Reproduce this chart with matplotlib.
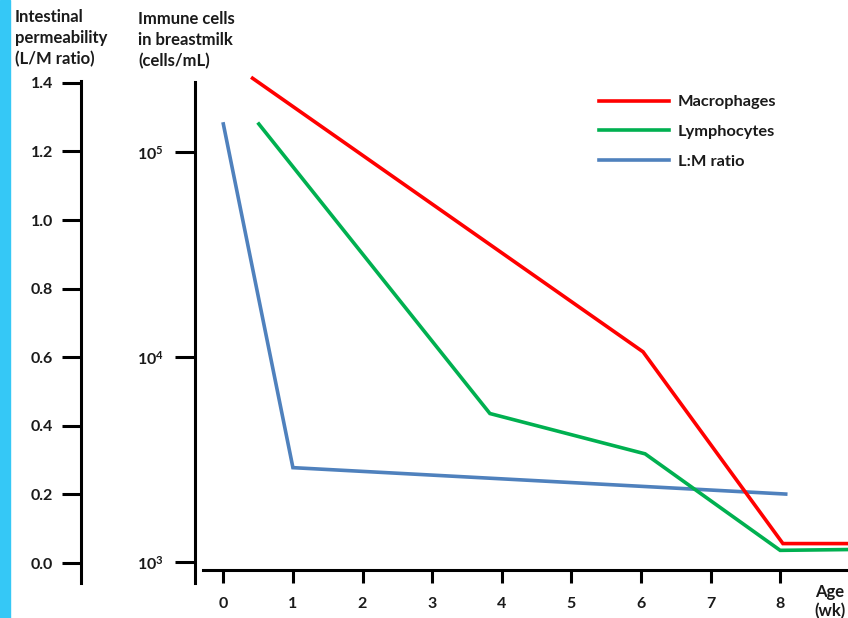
import matplotlib
matplotlib.use("Agg")
import matplotlib.pyplot as plt
from matplotlib.patches import Rectangle

# ---- data ----
mac_x = [0.42, 6.03, 8.04, 8.98]
mac_y = [2.29e5, 1.06e4, 1.23e3, 1.23e3]
lym_x = [0.51, 3.83, 6.06, 8.0, 8.96]
lym_y = [1.37e5, 5.3e3, 3.37e3, 1.14e3, 1.15e3]
lm_x = [0.0, 1.0, 8.08]
lm_y = [1.28, 0.278, 0.201]
x_ticks = [0, 1, 2, 3, 4, 5, 6, 7, 8]
lm_ticks = [0.0, 0.2, 0.4, 0.6, 0.8, 1.0, 1.2, 1.4]
log_ticks = [1e3, 1e4, 1e5]
log_labels = [r"$\mathbf{10^{3}}$", r"$\mathbf{10^{4}}$", r"$\mathbf{10^{5}}$"]
series_names = ["Macrophages", "Lymphocytes", "L:M ratio"]

plt.rcParams['font.family'] = ['Lato', 'DejaVu Sans']
plt.rcParams['font.weight'] = 'bold'
plt.rcParams['mathtext.fontset'] = 'custom'
plt.rcParams['mathtext.bf'] = 'Lato:bold'
plt.rcParams['mathtext.rm'] = 'Lato:bold'
TXT = '#1a1a1a'
W, H = 848, 618
fig = plt.figure(figsize=(W / 100, H / 100), dpi=100)
fig.patches.append(Rectangle((0, 0), 10 / W, 1, transform=fig.transFigure,
                             color='#35C8F6', zorder=0))

def fx(px):
    return px / W

def fy(py):
    return 1 - py / H

ax = fig.add_axes([fx(203), fy(583), fx(645), 523 / H])
ax_lm = ax.twinx()
ax.set_zorder(ax_lm.get_zorder() + 1)
ax.patch.set_visible(False)

lw_sp = 2.2
red, green, blue = '#FF0000', '#00B050', '#4F81BD'
l1, = ax.plot(mac_x, mac_y, color=red, lw=2.6, clip_on=False, solid_joinstyle='miter')
l2, = ax.plot(lym_x, lym_y, color=green, lw=2.6, clip_on=False, solid_joinstyle='miter')
l3, = ax_lm.plot(lm_x, lm_y, color=blue, lw=2.6, clip_on=False, solid_joinstyle='miter')

ax.set_xlim(-0.292, 8.975)
ax.set_yscale('log')
ax.set_ylim(10 ** 2.8976, 10 ** 5.4488)
ax_lm.set_ylim(-0.0583, 1.4665)

FS = 11.5
# spines of main axes
for s in ['top', 'right']:
    ax.spines[s].set_visible(False)
ax.spines['bottom'].set_position(('axes', 13 / 523))
ax.spines['bottom'].set_linewidth(lw_sp)
ax.spines['left'].set_position(('axes', -8 / 645))
ax.spines['left'].set_bounds(10 ** 2.8976, 10 ** 5.3415)
ax.spines['left'].set_linewidth(lw_sp)
ax.set_xticks(x_ticks)
ax.set_xticklabels([str(t) for t in x_ticks])
ax.tick_params(axis='x', direction='out', length=9.5, width=lw_sp, pad=10,
               labelsize=FS, labelcolor=TXT)
ax.yaxis.set_minor_locator(matplotlib.ticker.NullLocator())
ax.set_yticks(log_ticks)
ax.set_yticklabels(log_labels)
ax.tick_params(axis='y', which='major', direction='out', length=14.5, width=lw_sp,
               pad=8, labelsize=FS, labelcolor=TXT)

# L/M axis
for s in ['top', 'right', 'bottom']:
    ax_lm.spines[s].set_visible(False)
ax_lm.yaxis.tick_left()
ax_lm.spines['left'].set_visible(True)
ax_lm.spines['left'].set_position(('axes', -122 / 645))
ax_lm.spines['left'].set_bounds(-0.0583, 1.405)
ax_lm.spines['left'].set_linewidth(lw_sp)
ax_lm.set_yticks(lm_ticks)
ax_lm.set_yticklabels([f"{t:.1f}" for t in lm_ticks])
ax_lm.tick_params(axis='y', direction='out', length=14, width=lw_sp, pad=6,
                  labelsize=FS, labelcolor=TXT)

# axis titles
fig.text(fx(15), fy(9), "Intestinal\npermeability\n(L/M ratio)", ha='left', va='top',
         fontsize=12, linespacing=1.38, color=TXT)
fig.text(fx(138), fy(11), "Immune cells\nin breastmilk\n(cells/mL)", ha='left', va='top',
         fontsize=12, linespacing=1.38, color=TXT)
fig.text(fx(830), fy(584), "Age\n(wk)", ha='center', va='top',
         fontsize=12, linespacing=1.2, color=TXT)

fig.legend([l1, l2, l3], series_names, loc='upper left',
           bbox_to_anchor=(fx(599), fy(95)), frameon=False, fontsize=11.8,
           handlelength=4.3, handletextpad=0.5, labelspacing=0.92,
           borderpad=0, borderaxespad=0, labelcolor=TXT)

fig.savefig('out.png', dpi=100)
